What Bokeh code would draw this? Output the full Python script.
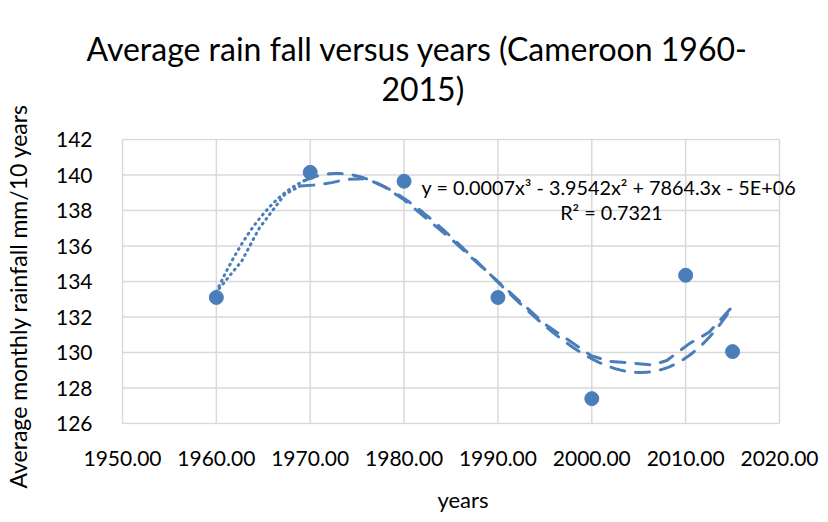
import numpy as np
from bokeh.plotting import figure
from bokeh.models import Label, Range1d, FixedTicker, CustomJSTickFormatter
from bokeh.embed import file_html
from bokeh.resources import INLINE

years = [1960, 1970, 1980, 1990, 2000, 2010, 2015]
rainfall = [133.1, 140.15, 139.65, 133.1, 127.4, 134.35, 130.05]
# second trend curve
trend2_years = [1960.3, 1962.7, 1964.6, 1967.3, 1968.9, 1970.7, 1972.3, 1973.9, 1976, 1978, 1980,
                1985, 1990, 1995, 2000, 2002, 2004.3, 2006.5, 2008, 2010.4, 2012.5, 2015]
trend2_vals = [133.6, 135.15, 137.03, 138.91, 139.38, 139.44, 139.57, 139.76, 139.8, 139.3, 138.6,
               136.4, 134.0, 131.6, 129.8, 129.5, 129.4, 129.3, 129.55, 130.5, 131.14, 132.6]
x_ticks = [1950, 1960, 1970, 1980, 1990, 2000, 2010, 2020]
y_ticks = [126, 128, 130, 132, 134, 136, 138, 140, 142]
title_lines = ["Average rain fall versus years (Cameroon 1960-", "2015)"]
equation = "y = 0.0007x\u00b3 - 3.9542x\u00b2 + 7864.3x - 5E+06"
r2_text = "R\u00b2 = 0.7321"
x_label = "years"
y_label = "Average monthly rainfall mm/10 years"

FONT = "Lato"
BLUE = "#4A7EBB"
GRID = "#D9D9D9"

X0, X1, Y0, Y1 = 1950, 2020, 126, 142
SX = 657 / (X1 - X0)   # px per year
SY = 284 / (Y1 - Y0)   # px per unit
EXTRA = 25             # frame extends past the last grid line so the equation is not clipped
FW = 1 + 657 + EXTRA
FH = 286

p = figure(frame_width=FW, frame_height=FH, output_backend="svg", toolbar_location=None,
           x_range=Range1d(X0 - 1 / SX, X0 - 1 / SX + FW / SX),
           y_range=Range1d(Y0 - 1 / SY, Y1 + 1 / SY),
           min_border_left=114, min_border_right=15, min_border_top=138, min_border_bottom=90)
p.outline_line_color = None
p.background_fill_color = "white"
p.border_fill_color = "white"
p.xgrid.grid_line_color = None
p.ygrid.grid_line_color = None

# two-line title; the second line is indented so that it sits centred under the first
p.title.text = title_lines[0] + "\n" + "\u00a0" * 36 + title_lines[1]
p.title.align = "left"
p.title.offset = -35
p.title.vertical_align = "top"
p.title.standoff = 56
p.title.text_line_height = 1.04
p.title.text_font = FONT
p.title.text_font_size = "32px"
p.title.text_font_style = "normal"
p.title.text_color = "#000000"

for ax in (p.xaxis, p.yaxis):
    ax.axis_line_color = None
    ax.major_tick_line_color = None
    ax.minor_tick_line_color = None
    ax.major_label_text_font = FONT
    ax.major_label_text_font_size = "21px"
    ax.major_label_text_color = "#000000"
    ax.axis_label_text_font = FONT
    ax.axis_label_text_font_style = "normal"
    ax.axis_label_text_color = "#000000"

p.xaxis.ticker = FixedTicker(ticks=x_ticks)
p.yaxis.ticker = FixedTicker(ticks=y_ticks)
p.xaxis.formatter = CustomJSTickFormatter(code="return tick.toFixed(2);")
p.xaxis.major_label_standoff = 20
p.yaxis.major_label_standoff = 23
p.xaxis.axis_label = x_label
p.xaxis.axis_label_text_font_size = "22px"
p.xaxis.axis_label_standoff = 17
p.yaxis.axis_label = y_label + "\u00a0" * 5
p.yaxis.axis_label_text_font_size = "23px"
p.yaxis.axis_label_standoff = 21

# grid lines (drawn only across the chart's value range)
p.segment(x0=X0, x1=X1, y0=y_ticks, y1=y_ticks, line_color=GRID, line_width=1.5)
p.segment(x0=x_ticks, x1=x_ticks, y0=Y0, y1=Y1, line_color=GRID, line_width=1.5)

# cubic polynomial trendline fitted to the data
xs = np.array(years, dtype=float)
ys = np.array(rainfall, dtype=float)
coef = np.polyfit(xs - 1960.0, ys, 3)
xx = np.linspace(xs.min(), xs.max(), 400)
yy = np.polyval(coef, xx - 1960.0)

t2x = np.array(trend2_years)
t2y = np.array(trend2_vals)

for cx, cy, cut in ((xx, yy, 1969.5), (t2x, t2y, 1969.0)):
    a = cx <= cut
    p.line(cx[a], cy[a], line_color=BLUE, line_width=3, line_dash="1 5", line_cap="round")
    p.line(np.r_[cx[a][-1], cx[~a]], np.r_[cy[a][-1], cy[~a]], line_color=BLUE, line_width=3,
           line_dash="14 11", line_cap="round")

p.scatter(years, rainfall, size=14, color=BLUE, line_color=BLUE)

p.add_layout(Label(x=1981.87, y=139.3, text=equation, text_font=FONT, text_font_size="19.8px",
                   text_baseline="middle", text_color="#000000"))
p.add_layout(Label(x=2002.1, y=137.9, text=r2_text, text_font=FONT, text_font_size="19.8px",
                   text_align="center", text_baseline="middle", text_color="#000000"))

open("out.html", "w").write(file_html(p, INLINE))
